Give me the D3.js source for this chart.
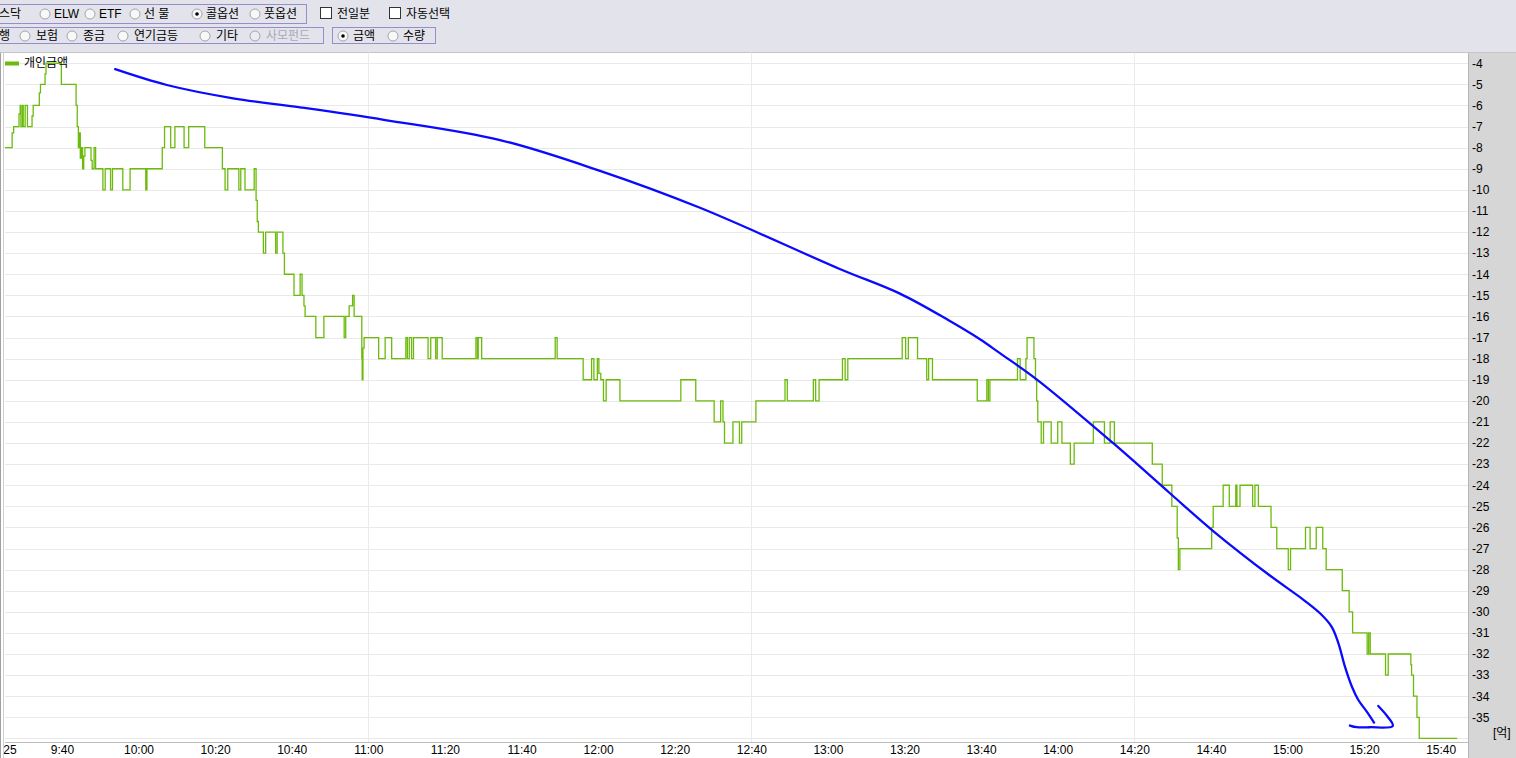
<!DOCTYPE html>
<html>
<head>
<meta charset="utf-8">
<script src="https://cdn.jsdelivr.net/npm/d3@7"></script>
<style>
  body { margin: 0; background: #fff; overflow: hidden; }
  text { font-family: "Liberation Sans", "Noto Sans CJK KR", sans-serif; font-size: 12px; }
</style>
</head>
<body>
<div id="chart"></div>
<script>
// ---- data (minutes after 09:00, amount in 억) ----
var seriesName = "개인금액";

// step points: [minute, value]
var individualSteps = [
  [25.1,-8],[27.0,-7.3],[27.4,-7],[28.8,-6.4],[29.1,-6],[29.3,-7],[29.7,-6],[29.9,-7],[30.4,-6],[31.0,-7],
  [32.2,-6.5],[32.5,-6],[34.1,-5.4],[34.4,-5],[35.6,-4.5],[35.85,-4],[39.85,-5],[43.7,-6],[44.0,-7],[44.3,-8],
  [44.5,-7.3],[44.8,-8.5],[45.1,-8],[45.4,-9],[45.7,-8.4],[46.0,-8],[47.6,-8.6],[47.9,-9],[48.4,-8],[48.8,-9],
  [50.7,-10],[51.3,-9],[52.7,-10],[53.2,-9],[55.9,-10],[57.8,-9],[61.9,-10],[62.2,-9],[66.2,-8],[66.8,-7],
  [68.4,-8],[69.5,-7],[71.9,-8],[73.1,-7],[77.3,-8],[81.9,-9],[82.6,-10],[83.3,-9],[86.2,-10],[86.7,-9],
  [87.8,-10],[90.2,-9],[90.7,-10.5],[91.0,-11.5],[91.3,-12],[92.6,-13],[93.2,-12],[95.8,-13],[96.2,-12],[97.7,-13],
  [98.1,-14],[100.6,-15],[102.2,-14],[102.7,-15],[103.2,-15.5],[103.5,-16],[106.3,-17],[108.4,-16],[113.7,-17],[114.1,-16],
  [115.0,-15.5],[115.9,-15],[116.3,-16],[118.3,-18],[118.4,-19],[118.6,-17.5],[118.9,-17],[122.7,-18],[124.4,-17],[126.1,-18],
  [129.8,-17],[130.2,-18],[130.7,-17],[131.3,-18],[131.8,-17],[135.6,-18],[136.3,-17],[137.6,-18],[138.0,-17],[139.3,-18],
  [148.1,-17],[148.5,-18],[148.7,-17],[149.6,-18],[168.8,-17],[169.3,-18],[176.1,-19],[178.3,-18],[178.9,-19],[179.8,-18],
  [180.2,-18.7],[180.7,-19],[181.4,-20],[182.1,-19],[185.7,-20],[201.6,-19],[205.5,-20],[210.3,-21],[212.0,-20],[212.6,-21],
  [213.0,-22],[215.2,-21],[216.9,-22],[217.5,-21],[221.2,-20],[228.8,-19],[229.4,-20],[236.2,-19],[236.8,-20],[237.7,-19],
  [243.8,-18],[244.5,-19],[245.2,-18],[259.4,-17],[260.3,-18],[261.0,-17],[263.4,-18],[265.8,-19],[266.3,-18],[267.3,-19],
  [279.0,-20],[281.5,-19],[281.9,-20],[282.3,-19],[289.5,-18],[290.2,-19],[291.7,-18],[292.0,-17],[293.8,-18],[294.2,-19],
  [294.5,-20],[294.8,-21],[295.7,-22],[296.3,-21],[298.3,-22],[300.0,-21],[301.1,-22],[303.3,-23],[304.3,-22],[309.3,-21],
  [312.2,-22],[313.7,-21],[314.8,-22],[324.7,-23],[327.3,-24],[329.8,-25],[331.2,-26.5],[331.5,-28],[331.9,-27],[340.2,-26],
  [340.6,-25],[343.2,-24],[344.8,-25],[346.5,-24],[346.8,-25],[347.6,-24],[350.9,-25],[351.5,-24],[352.4,-25],[355.7,-26],
  [357.2,-27],[360.2,-28],[360.8,-27],[364.7,-26],[365.9,-27],[367.5,-26],[369.2,-27],[370.1,-28],[374.3,-29],[376.1,-30],
  [377.0,-31],[380.8,-32],[381.2,-31],[381.6,-32],[385.6,-33],[386.3,-32],[392.2,-32.5],[392.4,-33],[392.9,-34],[393.8,-35],
  [394.4,-36],[404.3,-36]
];

// hand drawn blue annotation (same units as the chart)
var annotationCurve = [
  [53.9,-4.28],[67.4,-5.03],[84.7,-5.66],[102.2,-6.09],[124.4,-6.69],[154.4,-7.64],[180.5,-9.1],[206.6,-10.85],
  [243.1,-13.75],[258.8,-14.92],[271.4,-16.17],[279.7,-17.08],[284.9,-17.74],[294.5,-18.98],[314.5,-22.01],
  [329.3,-24.38],[340.6,-26.17],[355.4,-28.28],[364.1,-29.42],[368.5,-30.07],[371.5,-30.70],[373.3,-31.49],
  [375.0,-32.60],[376.8,-33.54],[378.5,-34.18],[380.7,-34.73],[382.6,-35.25]
];
var annotationArrow = [
  [376.3,-35.39],[378.1,-35.47],[381.5,-35.47],[387.5,-35.41],[386.1,-34.96],[383.7,-34.46]
];

var timeLabels = ["9:25","9:40","10:00","10:20","10:40","11:00","11:20","11:40","12:00","12:20","12:40",
                  "13:00","13:20","13:40","14:00","14:20","14:40","15:00","15:20","15:40"];
var gridTimes = ["11:00","12:40","14:20"];
var yTicks = [-4,-5,-6,-7,-8,-9,-10,-11,-12,-13,-14,-15,-16,-17,-18,-19,-20,-21,-22,-23,-24,-25,-26,-27,-28,-29,-30,-31,-32,-33,-34,-35];
var unitLabel = "[억]";

// header controls
var row1Radios = [
  {label: "ELW", checked: false}, {label: "ETF", checked: false}, {label: "선 물", checked: false},
  {label: "콜옵션", checked: true}, {label: "풋옵션", checked: false}
];
var row1Checks = ["전일분", "자동선택"];
var row2Radios = [
  {label: "보험"}, {label: "종금"}, {label: "연기금등"}, {label: "기타"}, {label: "사모펀드", disabled: true}
];
var row2Unit = [{label: "금액", checked: true}, {label: "수량", checked: false}];

function toMinute(s) {
  var p = s.split(":");
  return (+p[0]) * 60 + (+p[1]) - 540;
}

// ---- layout ----
var width = 1516, height = 758;
var plot = {left: 5, right: 1468, top: 52.5, bottom: 742};

var svg = d3.select("#chart").append("svg")
  .attr("width", width)
  .attr("height", height);

var xScale = d3.scaleLinear().domain([25.14, 407.13]).range([plot.left, plot.right]);
var yScale = d3.scaleLinear().domain([-36.17, -3.49]).range([plot.bottom, plot.top]);

// header background
svg.append("rect").attr("x", 0).attr("y", 0).attr("width", width).attr("height", 52)
  .attr("fill", "#e3e3eb");
svg.append("line").attr("x1", 0).attr("x2", width).attr("y1", 52.5).attr("y2", 52.5)
  .attr("stroke", "#c4c4cc");

// right value panel
svg.append("rect").attr("x", 1469).attr("y", 53).attr("width", width - 1469).attr("height", height - 53)
  .attr("fill", "#d6d6d6");
svg.append("line").attr("x1", 1468.5).attr("x2", 1468.5).attr("y1", 53).attr("y2", height)
  .attr("stroke", "#b4b4b4");

// left border lines
svg.append("line").attr("x1", 0.5).attr("x2", 0.5).attr("y1", 53).attr("y2", height).attr("stroke", "#a0a0a0");
svg.append("line").attr("x1", 3.5).attr("x2", 3.5).attr("y1", 53).attr("y2", height).attr("stroke", "#d0d0d0");

// horizontal grid
svg.append("g").selectAll("line")
  .data(yTicks.concat([-36]))
  .enter().append("line")
  .attr("x1", plot.left).attr("x2", plot.right)
  .attr("y1", function(d) { return Math.round(yScale(d)) + 0.5; })
  .attr("y2", function(d) { return Math.round(yScale(d)) + 0.5; })
  .attr("stroke", "#e9e9e9");

// vertical grid
svg.append("g").selectAll("line")
  .data(gridTimes)
  .enter().append("line")
  .attr("x1", function(d) { return Math.round(xScale(toMinute(d))) + 0.5; })
  .attr("x2", function(d) { return Math.round(xScale(toMinute(d))) + 0.5; })
  .attr("y1", plot.top).attr("y2", plot.bottom)
  .attr("stroke", "#ebebeb");

// bottom axis line
svg.append("line").attr("x1", plot.left).attr("x2", plot.right)
  .attr("y1", plot.bottom + 0.5).attr("y2", plot.bottom + 0.5)
  .attr("stroke", "#bdbdbd");

// clip for the plot
svg.append("clipPath").attr("id", "plotClip").append("rect")
  .attr("x", 4).attr("y", plot.top).attr("width", plot.right - 4).attr("height", height - plot.top);

// green series
var stepLine = d3.line()
  .x(function(d) { return xScale(d[0]); })
  .y(function(d) { return yScale(d[1]); })
  .curve(d3.curveStepAfter);

svg.append("path")
  .datum(individualSteps)
  .attr("clip-path", "url(#plotClip)")
  .attr("fill", "none")
  .attr("stroke", "#6cbb0c")
  .attr("stroke-width", 1.3)
  .attr("d", stepLine);

// blue annotation
var penLine = d3.line()
  .x(function(d) { return xScale(d[0]); })
  .y(function(d) { return yScale(d[1]); })
  .curve(d3.curveCatmullRom);

[annotationCurve, annotationArrow].forEach(function(pts) {
  svg.append("path")
    .datum(pts)
    .attr("fill", "none")
    .attr("stroke", "#0a0aff")
    .attr("stroke-width", 2.3)
    .attr("stroke-linecap", "round")
    .attr("stroke-linejoin", "round")
    .attr("d", penLine);
});

// legend
svg.append("rect").attr("x", 5).attr("y", 61.5).attr("width", 14).attr("height", 4).attr("fill", "#6cbb0c");
svg.append("text").attr("x", 24).attr("y", 63).attr("dy", "0.36em").attr("fill", "#000").text(seriesName);

// right axis
var yAxis = d3.axisRight(yScale).tickValues(yTicks).tickSize(0).tickPadding(4)
  .tickFormat(function(d) { return "-" + Math.abs(d); });
var gy = svg.append("g").attr("transform", "translate(1468,0)").call(yAxis);
gy.select(".domain").remove();
gy.selectAll("text").style("font-size", "12px").attr("fill", "#000");

svg.append("text").attr("x", 1493).attr("y", 733).attr("dy", "0.36em").attr("fill", "#000")
  .text(unitLabel);

// bottom time axis (clipped at the left border like the original)
var xAxis = d3.axisBottom(xScale)
  .tickValues(timeLabels.map(toMinute))
  .tickSize(0).tickPadding(3)
  .tickFormat(function(d, i) { return timeLabels[i]; });
var gx = svg.append("g").attr("clip-path", "url(#plotClip)")
  .append("g").attr("transform", "translate(0," + plot.bottom + ")")
  .call(xAxis);
gx.select(".domain").remove();
gx.selectAll("text").style("font-size", "12px").attr("fill", "#000");

// ---- header controls ----
var header = svg.append("g");

function groupBox(x, y, w, h) {
  header.append("rect").attr("x", x + 0.5).attr("y", y + 0.5).attr("width", w).attr("height", h)
    .attr("fill", "none").attr("stroke", "#9a8cc8");
}
function radio(cx, cy, checked, disabled) {
  header.append("circle").attr("cx", cx).attr("cy", cy).attr("r", 5)
    .attr("fill", disabled ? "#ececf0" : "#f8f8f8").attr("stroke", "#a4a4ac");
  if (checked) header.append("circle").attr("cx", cx).attr("cy", cy).attr("r", 1.8).attr("fill", "#000");
}
function label(x, y, s, color) {
  header.append("text").attr("x", x).attr("y", y).attr("dy", "0.36em")
    .attr("fill", color || "#000").text(s);
}

// row 1
groupBox(-2, 4, 308, 19);
label(-12, 14, "코스닥");
var r1x = [45, 90, 135, 197, 255];
row1Radios.forEach(function(d, i) {
  radio(r1x[i], 14, d.checked);
  label(r1x[i] + 9, 14, d.label);
});
var c1x = [320, 389];
row1Checks.forEach(function(d, i) {
  header.append("rect").attr("x", c1x[i] + 0.5).attr("y", 7.5).attr("width", 11).attr("height", 11)
    .attr("fill", "#fff").attr("stroke", "#333");
  label(c1x[i] + 17, 14, d);
});

// row 2
groupBox(-2, 27, 325, 16);
label(-12, 36, "은행");
var r2x = [25, 72, 123, 205, 255];
row2Radios.forEach(function(d, i) {
  radio(r2x[i], 36, false, d.disabled);
  label(r2x[i] + 11, 36, d.label, d.disabled ? "#a8a8b8" : "#000");
});
groupBox(332, 27, 103, 16);
var u2x = [343, 393];
row2Unit.forEach(function(d, i) {
  radio(u2x[i], 36, d.checked);
  label(u2x[i] + 10, 36, d.label);
});
</script>
</body>
</html>
